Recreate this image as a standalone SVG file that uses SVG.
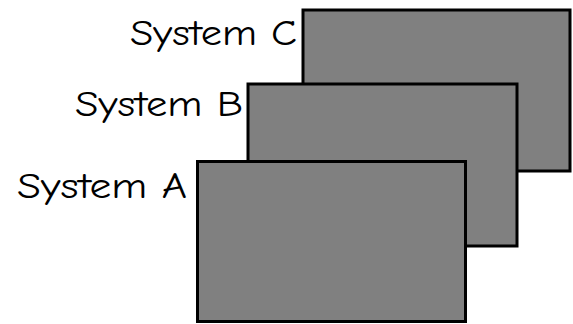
<svg xmlns="http://www.w3.org/2000/svg" width="573" height="324" viewBox="0 0 573 324">
<style>
.box{fill:#808080;stroke:#000;stroke-width:3}
.lbl{font-family:"Comic Neue","Liberation Sans",sans-serif;font-size:36px;fill:#000;text-anchor:end}
</style>
<rect width="573" height="324" fill="#fff"/>
<g id="systemC">
<rect class="box" x="303" y="10" width="267" height="161"/>
<text class="lbl" x="297" y="45" textLength="167" lengthAdjust="spacingAndGlyphs">System C</text>
</g>
<g id="systemB">
<rect class="box" x="248" y="84" width="269" height="162"/>
<text class="lbl" x="243" y="116" textLength="168" lengthAdjust="spacingAndGlyphs">System B</text>
</g>
<g id="systemA">
<rect class="box" x="197.5" y="161.5" width="268" height="160"/>
<text class="lbl" x="187" y="198" textLength="170" lengthAdjust="spacingAndGlyphs">System A</text>
</g>
<g id="connectors"></g>
</svg>
